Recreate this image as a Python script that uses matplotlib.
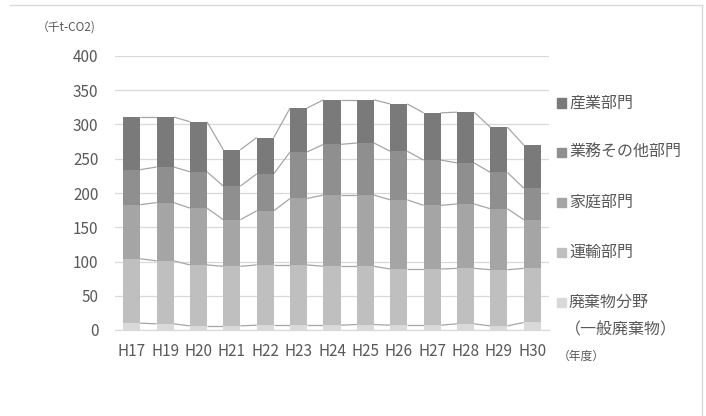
import matplotlib
matplotlib.use("Agg")
import matplotlib.pyplot as plt
from matplotlib.patches import Rectangle
from matplotlib.lines import Line2D
import numpy as np

plt.rcParams['font.family'] = ['Noto Sans CJK JP', 'DejaVu Sans']

years = ["H17", "H19", "H20", "H21", "H22", "H23", "H24", "H25", "H26", "H27", "H28", "H29", "H30"]

# Emissions by sector (thousand t-CO2), stacked bottom to top
waste = [10, 9, 6, 6, 7, 7, 7, 8, 7, 7, 9, 6, 11]
transport = [94, 92, 89, 87, 88, 88, 86, 85, 82, 82, 81, 82, 79]
household = [79, 85, 83, 68, 79, 97, 104, 104, 101, 93, 94, 89, 71]
business = [51, 52, 53, 49, 54, 68, 74, 76, 71, 66, 60, 53, 46]
industry = [77, 73, 73, 53, 53, 64, 65, 63, 69, 69, 74, 66, 63]

series_names = ["廃棄物分野\n（一般廃棄物）", "運輸部門", "家庭部門", "業務その他部門", "産業部門"]
series_values = [waste, transport, household, business, industry]
colors = ["#d9d9d9", "#bfbfbf", "#a5a5a5", "#8f8f8f", "#7a7a7a"]

W, H = 706, 416
fig = plt.figure(figsize=(W / 100, H / 100), dpi=100)
ax = fig.add_axes([115 / W, 1 - 330 / H, 434 / W, 274 / H])

x = np.arange(len(years))
bw = 0.51
bottom = np.zeros(len(years))
tops = []
for vals, col in zip(series_values, colors):
    v = np.array(vals, dtype=float)
    ax.bar(x, v, bw, bottom=bottom, color=col, edgecolor="none", zorder=3)
    bottom = bottom + v
    tops.append(bottom.copy())

# series lines joining the segment boundaries of neighbouring bars
for t in tops:
    for i in range(len(years) - 1):
        ax.plot([x[i] + bw / 2, x[i + 1] - bw / 2], [t[i], t[i + 1]],
                color="#a6a6a6", lw=0.9, zorder=2, solid_capstyle="butt")

ax.set_xlim(-0.5, len(years) - 0.5)
ax.set_ylim(0, 400)
ax.set_yticks(np.arange(0, 401, 50))
ax.set_xticks(x)
ax.set_xticklabels(years)
ax.yaxis.grid(True, color="#d9d9d9", lw=0.9, zorder=0)
ax.set_axisbelow(True)
for s in ["top", "right", "left"]:
    ax.spines[s].set_visible(False)
ax.spines["bottom"].set_color("#d9d9d9")
ax.spines["bottom"].set_linewidth(0.9)
ax.tick_params(axis="both", length=0, colors="#595959", labelsize=11)
ax.tick_params(axis="y", pad=12)
ax.tick_params(axis="x", pad=9)

fig.text(37 / W, 1 - 27 / H, "（千t-CO2)", fontsize=8.5, color="#595959", va="center", ha="left")
fig.text(558 / W, 1 - 356 / H, "（年度）", fontsize=8.5, color="#595959", va="center", ha="left")

# legend, drawn top to bottom in reverse stacking order
legend_y = [103, 152, 202, 252, 302]
for (name, col), yy in zip(zip(reversed(series_names), reversed(colors)), legend_y):
    fig.patches.append(Rectangle((557 / W, 1 - (yy + 4.5) / H), 9 / W, 9 / H,
                                 transform=fig.transFigure, color=col))
    lines = name.split("\n")
    fig.text(569 / W, 1 - yy / H, lines[0], fontsize=11.5, color="#595959", va="center", ha="left")
    if len(lines) > 1:
        fig.text(565 / W, 1 - (yy + 28) / H, lines[1], fontsize=11.5, color="#595959", va="center", ha="left")

# chart frame
fig.add_artist(Line2D([10 / W, 702 / W], [1 - 5 / H, 1 - 5 / H], transform=fig.transFigure, color="#d9d9d9", lw=1))
fig.add_artist(Line2D([702 / W, 702 / W], [1 - 5 / H, 0], transform=fig.transFigure, color="#d9d9d9", lw=1))

fig.savefig("out.png", dpi=100, facecolor="white")
